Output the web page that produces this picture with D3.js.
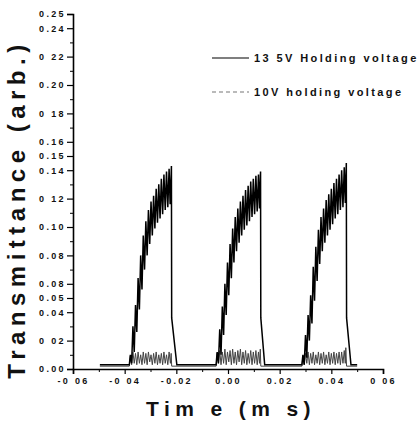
<!DOCTYPE html>
<html>
<head>
<meta charset="utf-8">
<script src="https://cdn.jsdelivr.net/npm/d3@7"></script>
<style>
  html, body { margin: 0; padding: 0; background: #fff; }
  svg { display: block; }
  text { font-family: "Liberation Sans", Arial, sans-serif; fill: #111; }
</style>
</head>
<body>
<div id="chart"></div>
<script>
// ---------- data ----------
const seriesNames = ["13 5V Holding voltage", "10V holding voltage"];

const xTickValues = [-0.06, -0.04, -0.02, 0.00, 0.02, 0.04, 0.06];
const xTickLabels = ["-0 06", "-0 04", "-0.02", "0.00", "0.02", "0.04", "0 06"];
const xMinorTicks = [-0.05, -0.03, -0.01, 0.01, 0.03, 0.05];

const yTickValues = [0.00, 0.02, 0.04, 0.05, 0.06, 0.08, 0.10, 0.12, 0.14, 0.15, 0.16, 0.18, 0.20, 0.22, 0.24, 0.25];
const yTickLabels = ["0.00", "0 02", "0.04", "0.05", "0.08", "0.08", "0.10", "0 12", "0.14", "0.15", "0.16", "0 18", "0.20", "0 22", "0.24", "0.25"];
const yMinorTicks = [0.01, 0.03, 0.07, 0.09, 0.11, 0.13, 0.17, 0.19, 0.21, 0.23];

// 13.5 V holding voltage trace: [time (ms), transmittance]
const series135 = [
  [-0.0496, 0.003], [-0.0382, 0.003],
  [-0.0378, 0.010], [-0.0373, 0.004], [-0.0368, 0.030], [-0.0363, 0.012], [-0.0358, 0.045],
  [-0.0353, 0.026], [-0.0348, 0.064], [-0.0343, 0.042], [-0.0338, 0.080], [-0.0333, 0.056],
  [-0.0328, 0.094], [-0.0323, 0.070], [-0.0318, 0.104], [-0.0313, 0.080], [-0.0308, 0.112],
  [-0.0303, 0.088], [-0.0298, 0.118], [-0.0293, 0.094], [-0.0288, 0.122], [-0.0283, 0.099],
  [-0.0278, 0.127], [-0.0273, 0.103], [-0.0268, 0.130], [-0.0263, 0.106], [-0.0258, 0.134],
  [-0.0253, 0.109], [-0.0248, 0.137], [-0.0243, 0.112], [-0.0238, 0.139], [-0.0233, 0.114],
  [-0.0228, 0.141], [-0.0224, 0.116], [-0.0219, 0.143], [-0.0218, 0.036], [-0.0198, 0.003],
  [-0.0046, 0.003],
  [-0.0042, 0.012], [-0.0037, 0.004], [-0.0032, 0.028], [-0.0027, 0.010], [-0.0022, 0.044],
  [-0.0017, 0.024], [-0.0012, 0.060], [-0.0007, 0.038], [-0.0002, 0.075], [0.0003, 0.052],
  [0.0008, 0.088], [0.0013, 0.064], [0.0018, 0.099], [0.0023, 0.075], [0.0028, 0.107],
  [0.0033, 0.083], [0.0038, 0.113], [0.0043, 0.089], [0.0048, 0.118], [0.0053, 0.094],
  [0.0058, 0.122], [0.0063, 0.098], [0.0068, 0.126], [0.0073, 0.101], [0.0078, 0.129],
  [0.0083, 0.104], [0.0088, 0.132], [0.0093, 0.107], [0.0098, 0.134], [0.0103, 0.109],
  [0.0108, 0.136], [0.0113, 0.111], [0.0118, 0.137], [0.0122, 0.113], [0.0126, 0.139],
  [0.0127, 0.036], [0.0142, 0.003],
  [0.0286, 0.003],
  [0.0290, 0.010], [0.0295, 0.003], [0.0300, 0.024], [0.0305, 0.008], [0.0310, 0.038],
  [0.0315, 0.020], [0.0320, 0.052], [0.0325, 0.032], [0.0330, 0.072], [0.0335, 0.048],
  [0.0340, 0.086], [0.0345, 0.062], [0.0350, 0.098], [0.0355, 0.074], [0.0360, 0.107],
  [0.0365, 0.083], [0.0370, 0.113], [0.0375, 0.089], [0.0380, 0.119], [0.0385, 0.094],
  [0.0390, 0.123], [0.0395, 0.098], [0.0400, 0.127], [0.0405, 0.102], [0.0410, 0.131],
  [0.0415, 0.106], [0.0420, 0.134], [0.0425, 0.109], [0.0430, 0.137], [0.0435, 0.112],
  [0.0440, 0.140], [0.0445, 0.114], [0.0450, 0.142], [0.0454, 0.117], [0.0458, 0.145],
  [0.0459, 0.036], [0.0476, 0.003], [0.0500, 0.003]
];

// 10 V holding voltage trace: [time (ms), transmittance]
const series10 = [
  [-0.0496, 0.002], [-0.0382, 0.002],
  [-0.0378, 0.009], [-0.0373, 0.003], [-0.0368, 0.012], [-0.0363, 0.004], [-0.0358, 0.011],
  [-0.0353, 0.003], [-0.0348, 0.012], [-0.0343, 0.004], [-0.0338, 0.010], [-0.0333, 0.003],
  [-0.0328, 0.012], [-0.0323, 0.004], [-0.0318, 0.011], [-0.0313, 0.003], [-0.0308, 0.012],
  [-0.0303, 0.005], [-0.0298, 0.010], [-0.0293, 0.003], [-0.0288, 0.011], [-0.0283, 0.004],
  [-0.0278, 0.012], [-0.0273, 0.003], [-0.0268, 0.010], [-0.0263, 0.004], [-0.0258, 0.011],
  [-0.0253, 0.003], [-0.0248, 0.012], [-0.0243, 0.004], [-0.0238, 0.010], [-0.0233, 0.003],
  [-0.0228, 0.012], [-0.0223, 0.004], [-0.0220, 0.011], [-0.0218, 0.002],
  [-0.0046, 0.002],
  [-0.0042, 0.011], [-0.0037, 0.004], [-0.0032, 0.013], [-0.0027, 0.003], [-0.0022, 0.012],
  [-0.0017, 0.004], [-0.0012, 0.014], [-0.0007, 0.003], [-0.0002, 0.012], [0.0003, 0.005],
  [0.0008, 0.013], [0.0013, 0.003], [0.0018, 0.014], [0.0023, 0.004], [0.0028, 0.012],
  [0.0033, 0.003], [0.0038, 0.013], [0.0043, 0.005], [0.0048, 0.014], [0.0053, 0.003],
  [0.0058, 0.012], [0.0063, 0.004], [0.0068, 0.013], [0.0073, 0.003], [0.0078, 0.011],
  [0.0083, 0.004], [0.0088, 0.013], [0.0093, 0.003], [0.0098, 0.012], [0.0103, 0.004],
  [0.0108, 0.013], [0.0113, 0.003], [0.0118, 0.012], [0.0122, 0.004], [0.0125, 0.014],
  [0.0127, 0.002],
  [0.0286, 0.002],
  [0.0290, 0.009], [0.0295, 0.003], [0.0300, 0.011], [0.0305, 0.004], [0.0310, 0.012],
  [0.0315, 0.003], [0.0320, 0.011], [0.0325, 0.004], [0.0330, 0.012], [0.0335, 0.003],
  [0.0340, 0.010], [0.0345, 0.004], [0.0350, 0.012], [0.0355, 0.003], [0.0360, 0.011],
  [0.0365, 0.004], [0.0370, 0.012], [0.0375, 0.003], [0.0380, 0.010], [0.0385, 0.004],
  [0.0390, 0.012], [0.0395, 0.003], [0.0400, 0.011], [0.0405, 0.004], [0.0410, 0.012],
  [0.0415, 0.003], [0.0420, 0.011], [0.0425, 0.004], [0.0430, 0.012], [0.0435, 0.003],
  [0.0440, 0.012], [0.0445, 0.004], [0.0450, 0.013], [0.0454, 0.004], [0.0456, 0.015],
  [0.0459, 0.002], [0.0500, 0.002]
];

// ---------- chart ----------
const W = 418, H = 421;
const svg = d3.select("#chart").append("svg").attr("width", W).attr("height", H);

const x = d3.scaleLinear().domain([-0.06, 0.06]).range([73, 383]);
const y = d3.scaleLinear().domain([0, 0.25]).range([369, 14]);

const line = d3.line().x(d => x(d[0])).y(d => y(d[1]));

// traces
svg.append("path").datum(series10)
  .attr("fill", "none").attr("stroke", "#444").attr("stroke-width", 1.0)
  .attr("d", line);
svg.append("path").datum(series135)
  .attr("fill", "none").attr("stroke", "#000").attr("stroke-width", 1.5)
  .attr("stroke-linejoin", "miter")
  .attr("d", line);

// axes
const tickFont = g => g.selectAll("text")
  .style("font-family", "'Liberation Sans', Arial, sans-serif")
  .style("font-size", "9px").style("font-weight", "bold")
  .style("letter-spacing", "2.3px").attr("fill", "#111");

const yAxis = svg.append("g").attr("transform", `translate(${x(-0.06)},0)`)
  .call(d3.axisLeft(y).tickValues(yTickValues).tickFormat((d, i) => yTickLabels[i]).tickSize(6).tickPadding(3))
  .call(tickFont);
yAxis.select(".domain").attr("stroke-width", 1.6).attr("stroke", "#000");
yAxis.selectAll(".tick line").attr("stroke-width", 1.2);
yAxis.selectAll("text").attr("dx", "0.2em");

const yMinor = svg.append("g").attr("transform", `translate(${x(-0.06)},0)`)
  .call(d3.axisLeft(y).tickValues(yMinorTicks).tickFormat("").tickSize(3));
yMinor.select(".domain").remove();

const xAxis = svg.append("g").attr("transform", `translate(0,${y(0)})`)
  .call(d3.axisBottom(x).tickValues(xTickValues).tickFormat((d, i) => xTickLabels[i]).tickSize(5).tickPadding(4))
  .call(tickFont);
xAxis.select(".domain").attr("stroke-width", 1.6).attr("stroke", "#000");
xAxis.selectAll(".tick line").attr("stroke-width", 1.2);

const xMinor = svg.append("g").attr("transform", `translate(0,${y(0)})`)
  .call(d3.axisBottom(x).tickValues(xMinorTicks).tickFormat("").tickSize(3));
xMinor.select(".domain").remove();

// axis titles
svg.append("text")
  .attr("transform", "translate(25,209) rotate(-90)")
  .attr("text-anchor", "middle")
  .style("font-size", "24px").style("font-weight", "bold").style("letter-spacing", "5.5px")
  .text("Transmittance (arb.)");

svg.append("text")
  .attr("x", 231).attr("y", 416)
  .attr("text-anchor", "middle")
  .style("font-size", "21px").style("font-weight", "bold").style("letter-spacing", "5.4px")
  .text("Tim e (m s)");

// legend
const legend = svg.append("g");
const legendY = [58, 92];
const legendDash = [null, "4,3"];
const legendColor = ["#000", "#777"];
seriesNames.forEach((name, i) => {
  legend.append("line")
    .attr("x1", 212).attr("x2", 249).attr("y1", legendY[i]).attr("y2", legendY[i])
    .attr("stroke", legendColor[i]).attr("stroke-width", 1.2)
    .attr("stroke-dasharray", legendDash[i]);
  legend.append("text")
    .attr("x", 254).attr("y", legendY[i] + 4)
    .style("font-size", "11px").style("font-weight", "bold").style("letter-spacing", "2.4px")
    .text(name);
});
</script>
</body>
</html>
